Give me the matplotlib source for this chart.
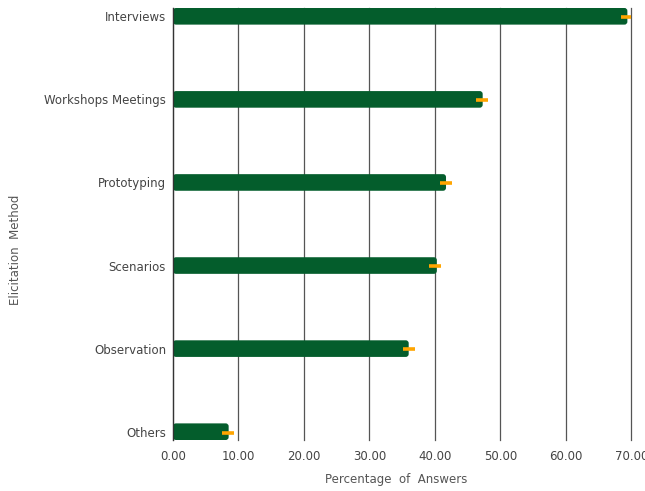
import matplotlib
matplotlib.use("Agg")
import matplotlib.pyplot as plt
from matplotlib.patches import FancyBboxPatch

categories = ["Interviews", "Workshops Meetings", "Prototyping", "Scenarios", "Observation", "Others"]
values = [69.4, 47.3, 41.7, 40.3, 36.0, 8.5]
marker_centers = [69.3, 47.2, 41.7, 40.0, 36.0, 8.4]
marker_halfwidth = [0.9, 0.9, 0.9, 0.9, 0.9, 0.9]
xticks = [0, 10, 20, 30, 40, 50, 60, 70]

W, H = 645, 491
fig = plt.figure(figsize=(W / 100, H / 100), dpi=100)
left, right, top, bottom = 173, 631.3, 8, 440
ax = fig.add_axes([left / W, 1 - bottom / H, (right - left) / W, (bottom - top) / H])

ypos = list(range(len(categories)))
bar_h = 0.2
bars = ax.barh(ypos, values, height=bar_h, color="#045d2c", zorder=2)

# round the bar corners
px_per_x = (right - left) / 70.0
px_per_y = (bottom - top) / (len(categories) - 1 + bar_h)
aspect = px_per_x / px_per_y
for p in list(bars.patches):
    x0, y0, w, h = p.get_x(), p.get_y(), p.get_width(), p.get_height()
    p.remove()
    fb = FancyBboxPatch((x0, y0), w, h,
                        boxstyle="round,pad=0,rounding_size=0.45",
                        mutation_aspect=aspect,
                        facecolor="#045d2c", edgecolor="none", zorder=2)
    ax.add_patch(fb)

ax.errorbar(marker_centers, [y + 0.01 for y in ypos], xerr=marker_halfwidth, fmt="none",
            ecolor="#FFA500", elinewidth=2.6, capsize=0, zorder=3)

ax.set_xlim(0, 70)
ax.set_ylim(len(categories) - 1 + bar_h / 2, -bar_h / 2)
ax.set_yticks(ypos)
ax.set_yticklabels(categories)
ax.set_xticks(xticks)
ax.set_xticklabels([f"{t:.2f}" for t in xticks])
ax.tick_params(axis="both", length=0, labelsize=8.5, labelcolor="#444444")
ax.tick_params(axis="x", pad=7)
ax.tick_params(axis="y", pad=5)

ax.grid(axis="x", color="#555555", linewidth=0.9, zorder=1)
ax.grid(axis="y", visible=False)
for gl in ax.get_xgridlines():
    gl.set_clip_on(False)
ax.set_axisbelow(True)
for s in ["top", "right", "bottom"]:
    ax.spines[s].set_visible(False)
ax.spines["left"].set_color("#333333")
ax.spines["left"].set_linewidth(0.9)
ax.spines["left"].set_zorder(4)

fig.text(396 / W, 1 - 480 / H, "Percentage  of  Answers", ha="center", va="center",
         fontsize=8.5, color="#555555")
fig.text(16 / W, 1 - 250 / H, "Elicitation  Method", ha="center", va="center",
         rotation=90, fontsize=8.5, color="#555555")

fig.savefig("out.png", dpi=100)
